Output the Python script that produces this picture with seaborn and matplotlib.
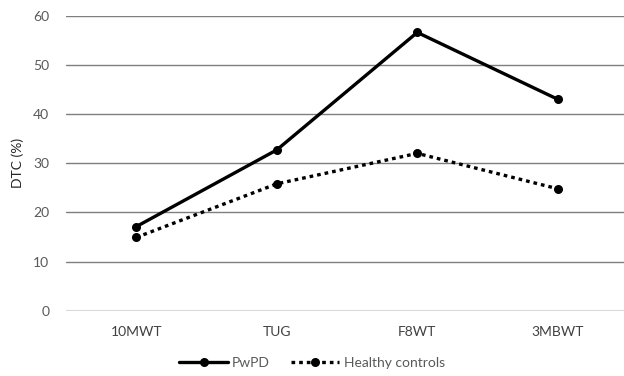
import pandas as pd
import seaborn as sns
import matplotlib
import matplotlib.pyplot as plt
matplotlib.use('Agg')

sns.set_theme(style="white")
plt.rcParams['font.family'] = ['Lato', 'DejaVu Sans']

# data
tests = ['10MWT', 'TUG', 'F8WT', '3MBWT']
pwpd = [17.1, 32.7, 56.6, 43.0]
healthy = [14.9, 25.8, 32.0, 24.8]
yticks = [0, 10, 20, 30, 40, 50, 60]

df = pd.DataFrame({'test': tests, 'PwPD': pwpd, 'Healthy controls': healthy})

fig = plt.figure(figsize=(6.24, 3.76), dpi=100)
ax = fig.add_axes([66/624, 1 - 310.7/376, 562/624, 295/376])

sns.lineplot(data=df, x='test', y='PwPD', ax=ax, color='black', linewidth=2.4,
             marker='o', markersize=6.5, markeredgewidth=0, label='PwPD', sort=False)
sns.lineplot(data=df, x='test', y='Healthy controls', ax=ax, color='black', linewidth=2.4,
             linestyle=(0, (1.1, 1.2)), marker='o', markersize=6.5, markeredgewidth=0,
             label='Healthy controls', sort=False)
for ln in ax.lines:
    ln.set_dash_capstyle('butt')

ax.set_xlim(-0.5, 3.5)
ax.set_ylim(0, 60)
ax.set_yticks(yticks)
sns.despine(ax=ax, left=True, bottom=True, top=True, right=True)
ax.yaxis.grid(True, color='#7f7f7f', linewidth=1)
ax.set_axisbelow(True)
ax.yaxis.get_gridlines()[0].set_color('#d9d9d9')
ax.yaxis.get_gridlines()[0].set_linewidth(1.5)

ax.tick_params(axis='y', length=0, pad=12, labelsize=10, labelcolor='#595959')
ax.tick_params(axis='x', length=0, pad=11, labelsize=10, labelcolor='#404040')
ax.set_xlabel('')
ax.set_ylabel('DTC (%)', fontsize=10, color='#262626')
ax.yaxis.set_label_coords(-0.075, 0.5)

ax.get_legend().remove()
h, l = ax.get_legend_handles_labels()
leg = fig.legend(h, l, loc='lower center', bbox_to_anchor=(0.5, -0.014), ncol=2,
                 frameon=False, fontsize=10, handlelength=3.5, columnspacing=1.5,
                 handletextpad=0.3)
for t in leg.get_texts():
    t.set_color('#595959')

fig.savefig('out.png', dpi=100)
